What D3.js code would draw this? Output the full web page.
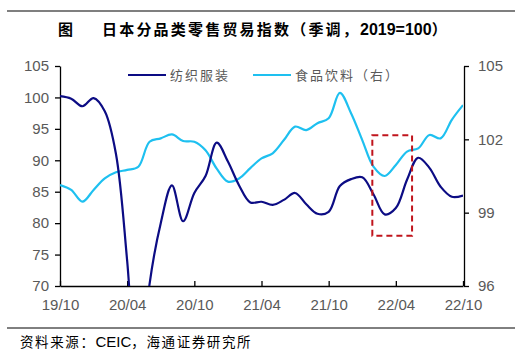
<!DOCTYPE html>
<html>
<head>
<meta charset="utf-8">
<script src="https://cdn.jsdelivr.net/npm/d3@7"></script>
<style>
  html, body { margin: 0; padding: 0; background: #fff; }
  svg { display: block; }
</style>
</head>
<body>
<svg id="chart" width="525" height="355"></svg>
<script>
// ---------- data ----------
const months = ["19/10","19/11","19/12","20/01","20/02","20/03","20/04","20/05","20/06","20/07","20/08","20/09",
  "20/10","20/11","20/12","21/01","21/02","21/03","21/04","21/05","21/06","21/07","21/08","21/09",
  "21/10","21/11","21/12","22/01","22/02","22/03","22/04","22/05","22/06","22/07","22/08","22/09","22/10"];
const textile = [100.2, 99.8, 98.6, 99.9, 97.8, 91.0, 74.0, 52.0, 70.3, 80.0, 86.0, 80.3,
  84.8, 87.5, 92.8, 89.8, 86.0, 83.3, 83.4, 82.9, 83.7, 84.8, 83.0, 81.5,
  81.8, 85.9, 87.0, 87.3, 84.6, 81.4, 82.4, 86.9, 90.4, 88.8, 85.8, 84.2, 84.4];
const food = [100.13, 99.93, 99.45, 99.93, 100.4, 100.65, 100.75, 100.88, 101.9, 102.04, 102.2, 101.93,
  101.9, 101.55, 100.8, 100.27, 100.4, 100.82, 101.22, 101.43, 101.97, 102.52, 102.38, 102.66,
  102.86, 103.9, 103.07, 101.97, 100.88, 100.5, 100.95, 101.5, 101.63, 102.18, 102.04, 102.8, 103.4];
const seriesNames = ["纺织服装", "食品饮料（右）"];
const xTickLabels = ["19/10","20/04","20/10","21/04","21/10","22/04","22/10"];
const leftTicks = [70, 75, 80, 85, 90, 95, 100, 105];
const rightTicks = [96, 99, 102, 105];
// highlight box: month-index span and left-axis value span
const highlightX = [27.9, 31.45];
const highlightY = [78, 94];
const titleLabel = "图";
const titleParts = ["日本分品类零售贸易指数（季调，", "2019=100", "）"];
const sourceText = "资料来源：CEIC，海通证券研究所";

// ---------- layout ----------
const L = 60, R = 463, T = 66, B = 286;
const navy = "#0c0c84", cyan = "#1ec0f0", grey = "#595959";
const svg = d3.select("#chart");

const x = d3.scaleLinear().domain([0, months.length - 1]).range([L, R]);
const yL = d3.scaleLinear().domain([70, 105]).range([B, T]);
const yR = d3.scaleLinear().domain([96, 105]).range([B, T]);

// top rule & title
svg.append("line").attr("x1", 7).attr("x2", 515).attr("y1", 11).attr("y2", 11)
  .attr("stroke", "#7f7f7f").attr("stroke-width", 2);
svg.append("text").attr("x", 58).attr("y", 35).text(titleLabel)
  .attr("font-family", "Noto Sans CJK SC").attr("font-weight", "bold").attr("font-size", 15).attr("fill", "#000");
const tt = svg.append("text").attr("x", 102).attr("y", 35)
  .attr("font-family", "'Noto Sans CJK SC'").attr("font-weight", "bold")
  .attr("font-size", 15).attr("fill", "#000");
tt.append("tspan").attr("letter-spacing", 2.2).text(titleParts[0]);
tt.append("tspan").attr("font-family", "'Liberation Sans', Arial").attr("font-size", 16).text(titleParts[1]);
tt.append("tspan").text(titleParts[2]);

// clip
svg.append("defs").append("clipPath").attr("id", "plot")
  .append("rect").attr("x", L).attr("y", T - 5).attr("width", R - L).attr("height", B - T + 5);

// axes
const fontAx = "'Liberation Sans', Arial, sans-serif";
const gL = svg.append("g").attr("transform", `translate(${L},0)`)
  .call(d3.axisLeft(yL).tickValues(leftTicks).tickSize(5).tickSizeOuter(0).tickPadding(6));
const gR = svg.append("g").attr("transform", `translate(${R + 1},0)`)
  .call(d3.axisRight(yR).tickValues(rightTicks).tickSize(5).tickSizeOuter(0).tickPadding(9));
const gB = svg.append("g").attr("transform", `translate(0,${B})`)
  .call(d3.axisBottom(x).tickValues(xTickLabels.map(m => months.indexOf(m)))
    .tickFormat(i => months[i]).tickSize(-5).tickSizeOuter(0).tickPadding(9));
[gL, gR, gB].forEach(g => {
  g.select(".domain").attr("stroke", "#000").attr("stroke-width", 1.3);
  g.selectAll(".tick line").attr("stroke", "#000").attr("stroke-width", 1.3);
  g.selectAll(".tick text").attr("font-family", fontAx).attr("font-size", 15).attr("fill", grey);
});
gB.selectAll(".tick text").attr("dy", "1em");

// lines
const lineL = d3.line().x((d, i) => x(i)).y(d => yL(d)).curve(d3.curveCatmullRom.alpha(0.5));
const lineR = d3.line().x((d, i) => x(i)).y(d => yR(d)).curve(d3.curveCatmullRom.alpha(0.5));
const gLines = svg.append("g").attr("clip-path", "url(#plot)");
gLines.append("path").datum(food).attr("d", lineR).attr("fill", "none")
  .attr("stroke", cyan).attr("stroke-width", 2.2);
gLines.append("path").datum(textile).attr("d", lineL).attr("fill", "none")
  .attr("stroke", navy).attr("stroke-width", 2.2);

// highlight box
svg.append("rect")
  .attr("x", x(highlightX[0])).attr("y", yL(highlightY[1]))
  .attr("width", x(highlightX[1]) - x(highlightX[0])).attr("height", yL(highlightY[0]) - yL(highlightY[1]))
  .attr("fill", "none").attr("stroke", "#c0141c").attr("stroke-width", 2).attr("stroke-dasharray", "6,4");

// legend
const legend = [
  { name: seriesNames[0], color: navy, x0: 128 },
  { name: seriesNames[1], color: cyan, x0: 253 }
];
legend.forEach(l => {
  svg.append("line").attr("x1", l.x0).attr("x2", l.x0 + 38).attr("y1", 75).attr("y2", 75)
    .attr("stroke", l.color).attr("stroke-width", 2.2);
  svg.append("text").attr("x", l.x0 + 42).attr("y", 80).text(l.name)
    .attr("font-family", "'Noto Sans CJK SC'").attr("font-size", 13).attr("letter-spacing", 2)
    .attr("fill", grey);
});

// bottom rule & source
svg.append("line").attr("x1", 7).attr("x2", 515).attr("y1", 328).attr("y2", 328)
  .attr("stroke", "#000").attr("stroke-width", 1);
const st = svg.append("text").attr("x", 20).attr("y", 347)
  .attr("font-family", "'Noto Sans CJK SC'").attr("font-size", 13.5)
  .attr("letter-spacing", 1.6).attr("fill", "#000");
st.append("tspan").text("资料来源：");
st.append("tspan").attr("font-family", "'Liberation Sans', Arial").attr("font-size", 15).attr("letter-spacing", 0).text("CEIC");
st.append("tspan").text("，海通证券研究所");
</script>
</body>
</html>
